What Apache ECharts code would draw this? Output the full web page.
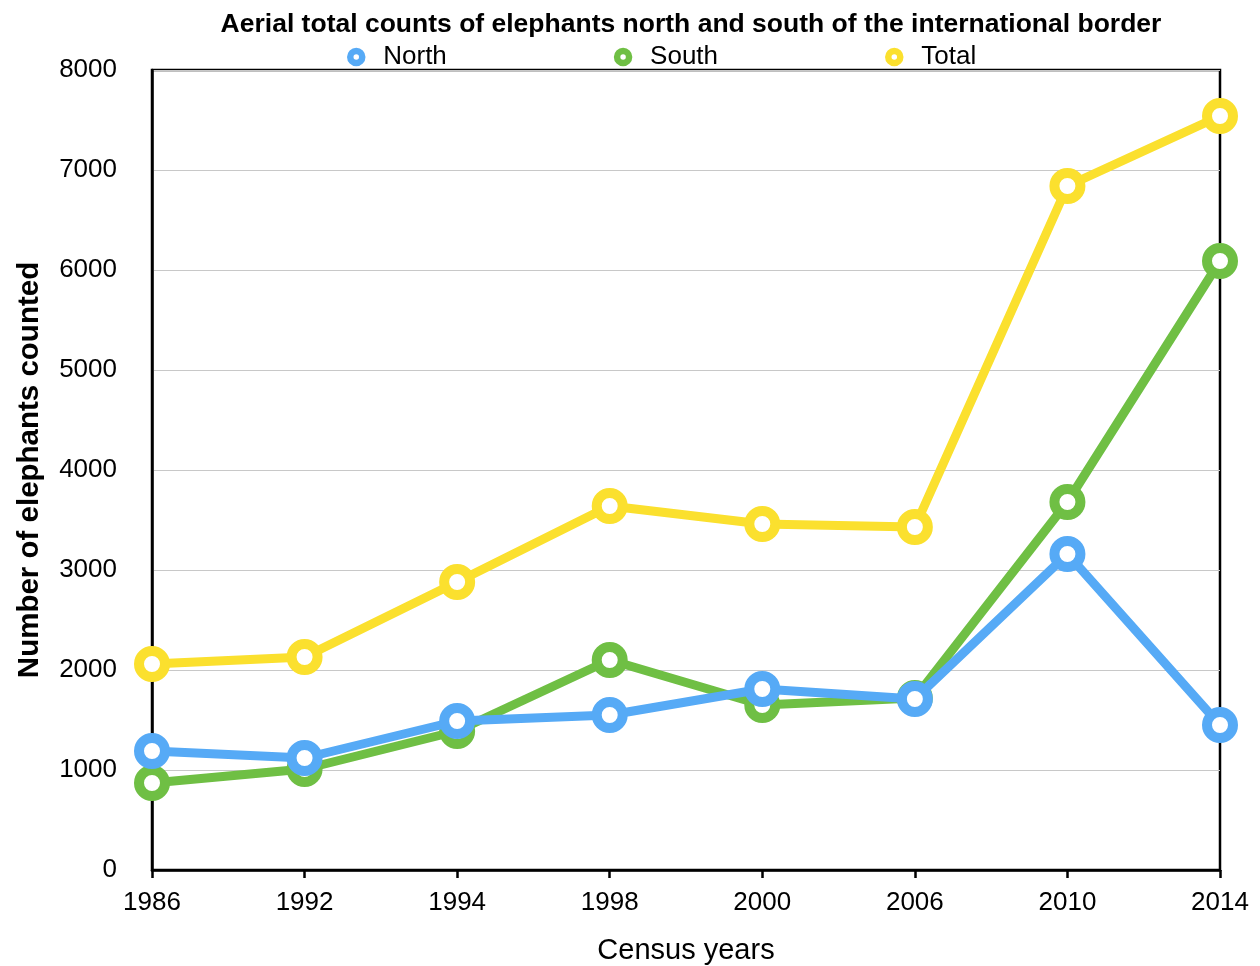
<!DOCTYPE html>
<html>
<head>
<meta charset="utf-8">
<script src="https://cdn.jsdelivr.net/npm/echarts@6/dist/echarts.min.js"></script>
<style>
  html, body { margin: 0; padding: 0; background: #fff; }
  #chart { width: 1260px; height: 966px; }
</style>
</head>
<body>
<div id="chart"></div>
<script>
// Census years and aerial counts
const years = ['1986', '1992', '1994', '1998', '2000', '2006', '2010', '2014'];
const north = [1190, 1120, 1490, 1550, 1810, 1710, 3160, 1450];
const south = [870, 1010, 1390, 2100, 1650, 1720, 3680, 6090];
const total = [2060, 2130, 2880, 3640, 3460, 3430, 6840, 7540];

const seriesNames = ['North', 'South', 'Total'];
const seriesColors = ['#56aaf6', '#6fbf44', '#fbe02e'];
const seriesData = [north, south, total];

const FONT = '"Liberation Sans", Arial, Helvetica, sans-serif';

const chart = echarts.init(document.getElementById('chart'));

chart.setOption({
  backgroundColor: '#fff',
  animation: false,
  textStyle: { fontFamily: FONT, color: '#000' },
  title: {
    text: 'Aerial total counts of elephants north and south of the international border',
    left: 686,
    textAlign: 'center',
    top: 6,
    textStyle: { fontFamily: FONT, fontSize: 26.5, fontWeight: 'bold', color: '#000' }
  },
  legend: {
    left: 342,
    top: 39,
    itemWidth: 44,
    itemHeight: 12,
    itemGap: 167,
    textStyle: { fontFamily: FONT, fontSize: 26, color: '#000' },
    data: seriesNames.map((n, i) => ({
      name: n,
      icon: 'circle',
      itemStyle: { color: '#fff', borderColor: seriesColors[i], borderWidth: 6.5 }
    }))
  },
  grid: {
    left: 152, right: 40, top: 70, bottom: 96,
    outerBoundsMode: 'none',
    containLabel: false,
    show: true,
    borderColor: '#000',
    borderWidth: 2.5,
    backgroundColor: 'transparent'
  },
  xAxis: {
    type: 'category',
    data: years,
    boundaryGap: false,
    name: 'Census years',
    nameLocation: 'middle',
    nameGap: 66,
    nameTextStyle: { fontFamily: FONT, fontSize: 29, color: '#000' },
    axisLine: { lineStyle: { color: '#000', width: 2.5 } },
    axisTick: { show: true, length: 8, lineStyle: { color: '#000', width: 2.5 } },
    axisLabel: { fontFamily: FONT, fontSize: 26, color: '#000', margin: 20 },
    splitLine: { show: false }
  },
  yAxis: {
    type: 'value',
    min: 0,
    max: 8000,
    interval: 1000,
    name: 'Number of elephants counted',
    nameLocation: 'middle',
    nameGap: 107,
    nameTextStyle: { fontFamily: FONT, fontSize: 29.5, fontWeight: 'bold', color: '#000' },
    axisLine: { show: true, lineStyle: { color: '#000', width: 2.5 } },
    axisTick: { show: false },
    axisLabel: {
      fontFamily: FONT, fontSize: 26, color: '#000', margin: 35,
      formatter: v => String(v)
    },
    splitLine: { show: true, lineStyle: { color: '#c8c8c8', width: 1 } }
  },
  series: seriesNames.map((n, i) => ({
    name: n,
    type: 'line',
    data: seriesData[i],
    z: 4 - i,
    symbol: 'circle',
    symbolSize: 26,
    showSymbol: true,
    lineStyle: { color: seriesColors[i], width: 9 },
    itemStyle: { color: '#fff', borderColor: seriesColors[i], borderWidth: 10 },
    emphasis: { disabled: true }
  }))
});
</script>
</body>
</html>
